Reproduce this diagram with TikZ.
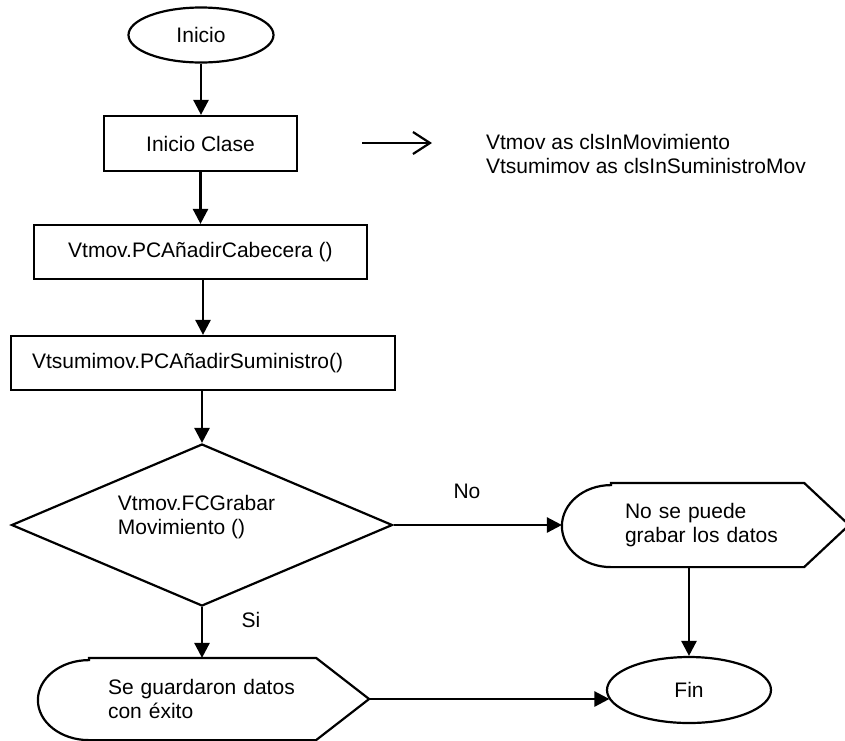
\documentclass[tikz,border=0pt]{standalone}
\usepackage{fontspec}
\setmainfont{Liberation Sans}
\usetikzlibrary{arrows.meta,shapes.geometric,calc}
\newcommand\dispoutline[4]{%
  \draw ($(#1.north west)+(#2,0)$) -- ($(#1.north east)+(-#3,0)$) -- (#1.east)
    -- ($(#1.south east)+(-#3,0)$) -- ($(#1.south west)+(#2,0)$)
    arc[start angle=270,end angle=90,x radius=#2pt,y radius=#4pt] -- cycle;}
\begin{document}
\begin{tikzpicture}[x=1pt,y=-1pt,font=\fontsize{21}{24}\selectfont,line width=2.2pt,
  term/.style={ellipse,draw,inner sep=0pt},
  proc/.style={rectangle,draw,inner sep=0pt},
  dispnode/.style={rectangle,inner ysep=0pt,align=left},
  decis/.style={diamond,draw,inner sep=0pt,aspect=2.35},
  flow/.style={line width=2.6pt,-{Triangle[length=15pt,width=15pt]}},
  plain/.style={inner sep=0pt}]
\useasboundingbox (0,0) rectangle (845,740);

\node[term,minimum width=145pt,minimum height=55pt] (inicio) at (201,35) {Inicio};
\node[proc,minimum width=193pt,minimum height=55pt] (clase) at (200.5,143.5) {Inicio Clase};
\node[proc,minimum width=333pt,minimum height=54pt] (cab) at (200.5,252) {Vtmov.PCAñadirCabecera ()};
\node[proc,inner xsep=21pt,text width=342pt,align=left,minimum height=54pt] (sum) at (203,363) {Vtsumimov.PCAñadirSuministro()};
\node[decis,minimum width=381pt,minimum height=162pt] (dec) at (202,525) {};
\node[plain,align=left] (dectxt) at (196.5,517) {Vtmov.FCGrabar\\Movimiento ()};
\node[dispnode,inner xsep=62pt,text width=161pt,minimum height=82pt] (nosave) at (705.5,525) {No se puede\\grabar los datos};
\node[dispnode,inner xsep=69pt,text width=191pt,minimum height=80pt] (saved) at (203.5,699) {Se guardaron datos\\con éxito};
\node[term,minimum width=164pt,minimum height=66pt] (fin) at (689,690) {Fin};
\dispoutline{nosave}{49}{45}{41}
\dispoutline{saved}{51}{53}{40}

\node[plain,align=left,anchor=north west] (decl) at (485,133) {Vtmov as clsInMovimiento\\Vtsumimov as clsInSuministroMov};
\node[plain] (nolbl) at (467,491) {No};
\node[plain] (silbl) at (251,620) {Si};

\coordinate (a1) at (362,143);
\coordinate (a2) at (432,143);
\draw[-{Straight Barb[length=17pt,width=22pt]}] (a1) -- (a2);

\draw[flow] (inicio.south) -- (inicio.south |- clase.north);
\draw[flow] (clase.south) -- (clase.south |- cab.north);
\draw[flow] (sum.north |- cab.south) -- (sum.north);
\draw[flow] (dec.north |- sum.south) -- (dec.north);
\draw[flow] (dec.south) -- (dec.south |- saved.north);
\draw[flow] (dec.east) -- (dec.east -| nosave.west);
\draw[flow] (fin.north |- nosave.south) -- (fin.north);
\draw[flow] (saved.east) -- (saved.east -| fin.187);
\end{tikzpicture}
\end{document}
